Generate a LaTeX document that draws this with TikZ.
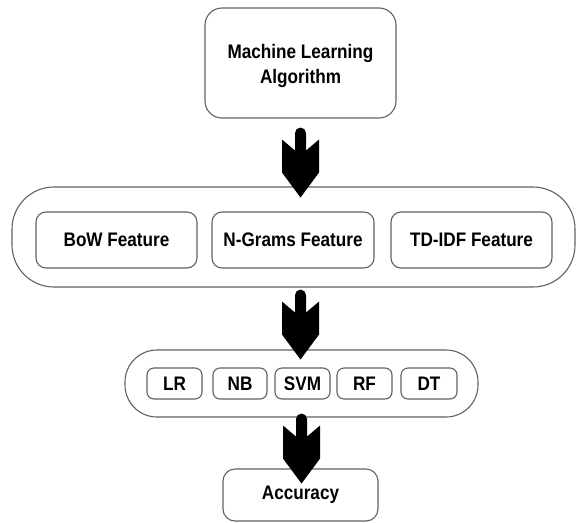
\documentclass[tikz,border=0pt]{standalone}
\usepackage{fontspec}
\usepackage{graphicx}
\setmainfont{Liberation Sans}
\usetikzlibrary{calc}
\newcommand{\tallt}[1]{\scalebox{0.98}[1.12]{#1}}
\tikzset{
  boxline/.style={draw=black!62, line width=1.1pt},
  bigbox/.style={boxline, rounded corners=17pt, inner sep=0pt},
  featbox/.style={boxline, rounded corners=10pt, inner sep=0pt, minimum height=56pt},
  modelbox/.style={boxline, rounded corners=7pt, inner sep=0pt, minimum height=31pt},
  container/.style={boxline, inner sep=0pt},
  lbl/.style={font=\bfseries\fontsize{17.5}{24}\selectfont, text=black},
  fatarrow/.pic={
    \fill[black] (-5.5,5.5) arc[start angle=180,end angle=360,radius=5.5]
      -- (5.5,23) -- (18.5,12) -- (18.5,45) -- (0,70) -- (-18.5,45)
      -- (-18.5,12) -- (-5.5,23) -- cycle;
  }
}
\begin{document}
\begin{tikzpicture}[x=1pt,y=-1pt]
\useasboundingbox (0,0) rectangle (577,522);
% top box
\node[bigbox, minimum width=191pt, minimum height=110pt] (ml) at (300.5,63) {};
\node[lbl, align=center] (mltext) at (300.5,66) {\tallt{Machine Learning}\\[1pt]\tallt{Algorithm}};
% feature container
\node[container, rounded corners=42pt, minimum width=563pt, minimum height=100pt] (feat) at (293.5,237) {};
\node[featbox, minimum width=161pt, lbl] (bow) at (116.5,240) {\tallt{BoW Feature}};
\node[featbox, minimum width=162pt, lbl] (ngram) at (293,240) {\tallt{N-Grams Feature}};
\node[featbox, minimum width=161pt, lbl] (tfidf) at (471.5,240) {\tallt{TD-IDF Feature}};
% model container
\node[container, rounded corners=32pt, minimum width=353pt, minimum height=67pt] (models) at (301.5,383.5) {};
\node[modelbox, minimum width=55pt, lbl] (lr) at (174.5,383.5) {\tallt{LR}};
\node[modelbox, minimum width=54pt, lbl] (nb) at (240,383.5) {\tallt{NB}};
\node[modelbox, minimum width=55pt, lbl] (svm) at (302.5,383.5) {\tallt{SVM}};
\node[modelbox, minimum width=55pt, lbl] (rf) at (364.5,383.5) {\tallt{RF}};
\node[modelbox, minimum width=56pt, lbl] (dt) at (429,383.5) {\tallt{DT}};
% accuracy
\node[boxline, rounded corners=12pt, inner sep=0pt, minimum width=155pt, minimum height=52pt, lbl] (acc) at (300.5,495) {\tallt{Accuracy}};
% arrows
\coordinate (a1) at ($(ml.south)+(0,9)$);
\coordinate (a2) at ($(feat.south)+(7,2)$);
\coordinate (a3) at ($(models.south)+(0,-4)$);
\pic at (a1) {fatarrow};
\pic at (a2) {fatarrow};
\pic at (a3) {fatarrow};
\end{tikzpicture}
\end{document}
